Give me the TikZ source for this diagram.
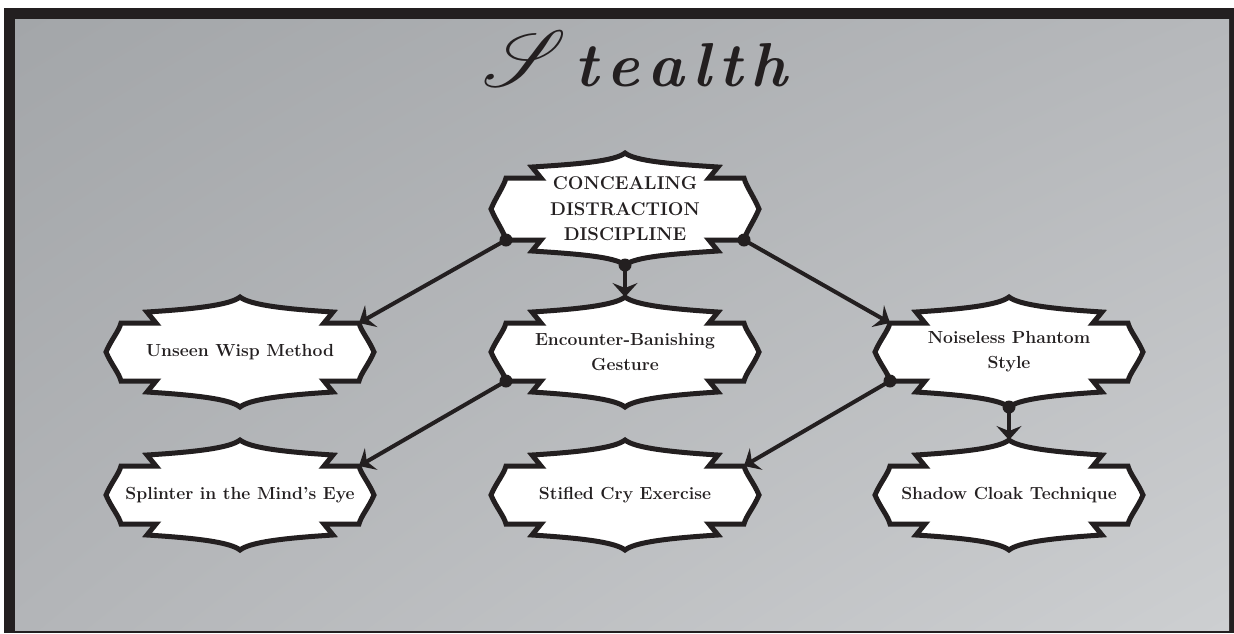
\documentclass[tikz,border=0pt]{standalone}
\usepackage{fontspec}
\usepackage{mathrsfs}
\usetikzlibrary{arrows.meta,shadings}
\definecolor{ink}{HTML}{231F20}
\definecolor{bgUL}{HTML}{A3A6A9}
\definecolor{bgUR}{HTML}{B6B8BB}
\definecolor{bgLL}{HTML}{B3B5B8}
\definecolor{bgLR}{HTML}{CDCFD1}
\tikzset{
  plaque/.style={fill=white,draw=ink,line width=5pt,line join=miter},
  ptext/.style={font=\fontsize{17.5}{25}\selectfont\bfseries,text=ink,align=center,inner sep=0pt},
  captext/.style={ptext,font=\fontsize{18.5}{25.5}\selectfont\bfseries},
  conn/.style={draw=ink,line width=4pt,-{Stealth[length=14pt,width=25pt,inset=5pt]}},
  jdot/.style={fill=ink},
}
% name, x, y, shoulder offset, peak offset, text style, text
\newcommand\plaq[7]{%
  \begin{scope}[shift={(#2,#3)}]
    \draw[plaque] (-134,0) .. controls (-129,-12) and (-121,{-#4+8}) .. (-119,-#4)
      -- (-84,-#4) -- (-93,{-#4-11})
      .. controls (-45,{-#4-14}) and (-10,{-#5+8}) .. (0,-#5)
      .. controls (10,{-#5+8}) and (45,{-#4-14}) .. (93,{-#4-11})
      -- (84,-#4) -- (119,-#4)
      .. controls (121,{-#4+8}) and (129,-12) .. (134,0)
      .. controls (129,12) and (121,{#4-8}) .. (119,#4)
      -- (84,#4) -- (93,{#4+11})
      .. controls (45,{#4+14}) and (10,{#5-8}) .. (0,#5)
      .. controls (-10,{#5-8}) and (-45,{#4+14}) .. (-93,{#4+11})
      -- (-84,#4) -- (-119,#4)
      .. controls (-121,{#4-8}) and (-129,12) .. (-134,0) -- cycle;
    \coordinate (#1-nw) at (-119,-#4);
    \coordinate (#1-ne) at (119,-#4);
    \coordinate (#1-sw) at (-119,#4);
    \coordinate (#1-se) at (119,#4);
    \coordinate (#1-n) at (0,-#5);
    \coordinate (#1-s) at (0,#5);
  \end{scope}
  \node[#6] (#1) at (#2,#3) {#7};%
}
\begin{document}
\begin{tikzpicture}[x=1pt,y=-1pt]
\useasboundingbox (0,0) rectangle (1234,633);
\fill[white] (0,0) rectangle (1234,633);
\fill[ink] (4,8) rectangle (1234,633);
\shade[upper left=bgUL,upper right=bgUR,lower left=bgLL,lower right=bgLR] (15,19) rectangle (1229,630);

\node[anchor=base west,inner sep=0pt,text=ink] (title) at (482,86)
  {\scalebox{3.2}{\fontsize{24.88}{30}\selectfont$\mathscr{S}$}\hspace{8pt}%
   \fontsize{62}{62}\selectfont\bfseries\itshape t\hspace{8pt}e\hspace{8pt}a\hspace{8pt}l\hspace{8pt}t\hspace{8pt}h};

\plaq{C}{625}{209}{31}{56}{captext}{CONCEALING\\DISTRACTION\\DISCIPLINE}
\plaq{U}{240}{352}{29}{55}{ptext}{Unseen Wisp Method}
\plaq{E}{625}{352}{29}{55}{ptext}{Encounter-Banishing\\Gesture}
\plaq{N}{1009}{352}{29}{55}{ptext}{Noiseless Phantom\\Style}
\plaq{SM}{240}{495}{29}{55}{ptext}{Splinter in the Mind's Eye}
\plaq{SC}{625}{495}{29}{55}{ptext}{Stifled Cry Exercise}
\plaq{SH}{1009}{495}{29}{55}{ptext}{Shadow Cloak Technique}

\draw[conn] (C-sw) -- (U-ne);
\draw[conn] (C-s) -- (E-n);
\draw[conn] (C-se) -- (N-nw);
\draw[conn] (E-sw) -- (SM-ne);
\draw[conn] (N-sw) -- (SC-ne);
\draw[conn] (N-s) -- (SH-n);
\foreach \p in {C-sw,C-s,C-se,E-sw,N-sw,N-s}
  \fill[jdot] (\p) circle (6.5pt);
\end{tikzpicture}
\end{document}
